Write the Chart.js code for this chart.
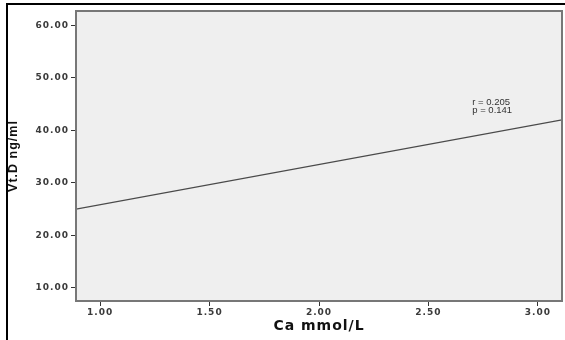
<!DOCTYPE html>
<html>
<head>
<meta charset="utf-8">
<script src="https://cdn.jsdelivr.net/npm/chart.js@4"></script>
<style>
  html, body { margin: 0; padding: 0; background: #fff; }
  #wrap { width: 565px; height: 340px; position: relative; }
</style>
</head>
<body>
<div id="wrap"><canvas id="fitChart"></canvas></div>
<script>
// fit line (Ca vs Vt.D) at both edges of the plot
const caValues = [0.89, 3.11];
const vtdValues = [25.0, 42.0];
const xTicks = [1.0, 1.5, 2.0, 2.5, 3.0];
const yTicks = [10, 20, 30, 40, 50, 60];
const statLines = ['r = 0.205', 'p = 0.141'];
const statPos = { x: 2.70, y: 45.3 };

const frame = {
    id: 'frame',
    beforeDraw(chart) {
        const { ctx, chartArea: a } = chart;
        ctx.save();
        ctx.fillStyle = '#fff';
        ctx.fillRect(0, 0, chart.width, chart.height);
        // outer black frame (top + left)
        ctx.strokeStyle = '#000';
        ctx.lineWidth = 2;
        ctx.beginPath();
        ctx.moveTo(565, 4);
        ctx.lineTo(7, 4);
        ctx.lineTo(7, 340);
        ctx.stroke();
        ctx.fillStyle = '#efefef';
        ctx.fillRect(a.left, a.top, a.right - a.left, a.bottom - a.top);
        ctx.restore();
        // the original labels are set wide
        ctx.letterSpacing = '1px';
    },
    afterDraw(chart) {
        const { ctx, chartArea: a, scales } = chart;
        ctx.letterSpacing = '0px';
        ctx.save();
        ctx.strokeStyle = '#777';
        ctx.lineWidth = 2;
        ctx.strokeRect(a.left, a.top, a.right - a.left, a.bottom - a.top);
        ctx.fillStyle = '#333';
        ctx.font = '9.5px "Liberation Sans", Arial, sans-serif';
        ctx.textBaseline = 'middle';
        const px = scales.x.getPixelForValue(statPos.x);
        const py = scales.y.getPixelForValue(statPos.y);
        statLines.forEach((t, i) => ctx.fillText(t, px, py + i * 8));
        ctx.restore();
    }
};

const ctx = document.getElementById('fitChart').getContext('2d');
new Chart(ctx, {
    type: 'scatter',
    data: {
        datasets: [{
            data: caValues.map((v, i) => ({ x: v, y: vtdValues[i] })),
            showLine: true,
            borderColor: '#4a4a4a',
            borderWidth: 1.2,
            pointRadius: 0,
            fill: false
        }]
    },
    options: {
        responsive: true,
        maintainAspectRatio: false,
        animation: false,
        layout: { padding: { left: 6, top: 11, right: 3, bottom: 0 } },
        plugins: { legend: { display: false }, tooltip: { enabled: false } },
        scales: {
            x: {
                type: 'linear',
                min: caValues[0],
                max: caValues[1],
                afterBuildTicks: s => { s.ticks = xTicks.map(v => ({ value: v })); },
                afterFit: s => { s.height = 39; },
                grid: { drawOnChartArea: false, drawTicks: true, tickLength: 5, color: '#333' },
                border: { display: false },
                ticks: {
                    color: '#3a3a3a',
                    padding: 1,
                    maxRotation: 0,
                    font: { family: '"DejaVu Sans"', size: 9, weight: 'bold' },
                    callback: v => v.toFixed(2)
                },
                title: {
                    display: true,
                    text: 'Ca mmol/L',
                    color: '#111',
                    font: { family: '"DejaVu Sans"', size: 14, weight: 'bold' },
                    padding: { top: 0, bottom: 5 }
                }
            },
            y: {
                type: 'linear',
                min: 7.47,
                max: 62.76,
                afterBuildTicks: s => { s.ticks = yTicks.map(v => ({ value: v })); },
                afterFit: s => { s.width = 70; },
                grid: { drawOnChartArea: false, drawTicks: true, tickLength: 5, color: '#333' },
                border: { display: false },
                ticks: {
                    color: '#3a3a3a',
                    padding: 2,
                    font: { family: '"DejaVu Sans"', size: 9, weight: 'bold' },
                    callback: v => v.toFixed(2)
                },
                title: {
                    display: true,
                    text: 'Vt.D ng/ml',
                    color: '#111',
                    font: { family: '"Liberation Sans Narrow", "Liberation Sans"', size: 12.5, weight: 'bold' },
                    padding: { top: 0, bottom: 0 }
                }
            }
        }
    },
    plugins: [frame]
});
</script>
</body>
</html>
